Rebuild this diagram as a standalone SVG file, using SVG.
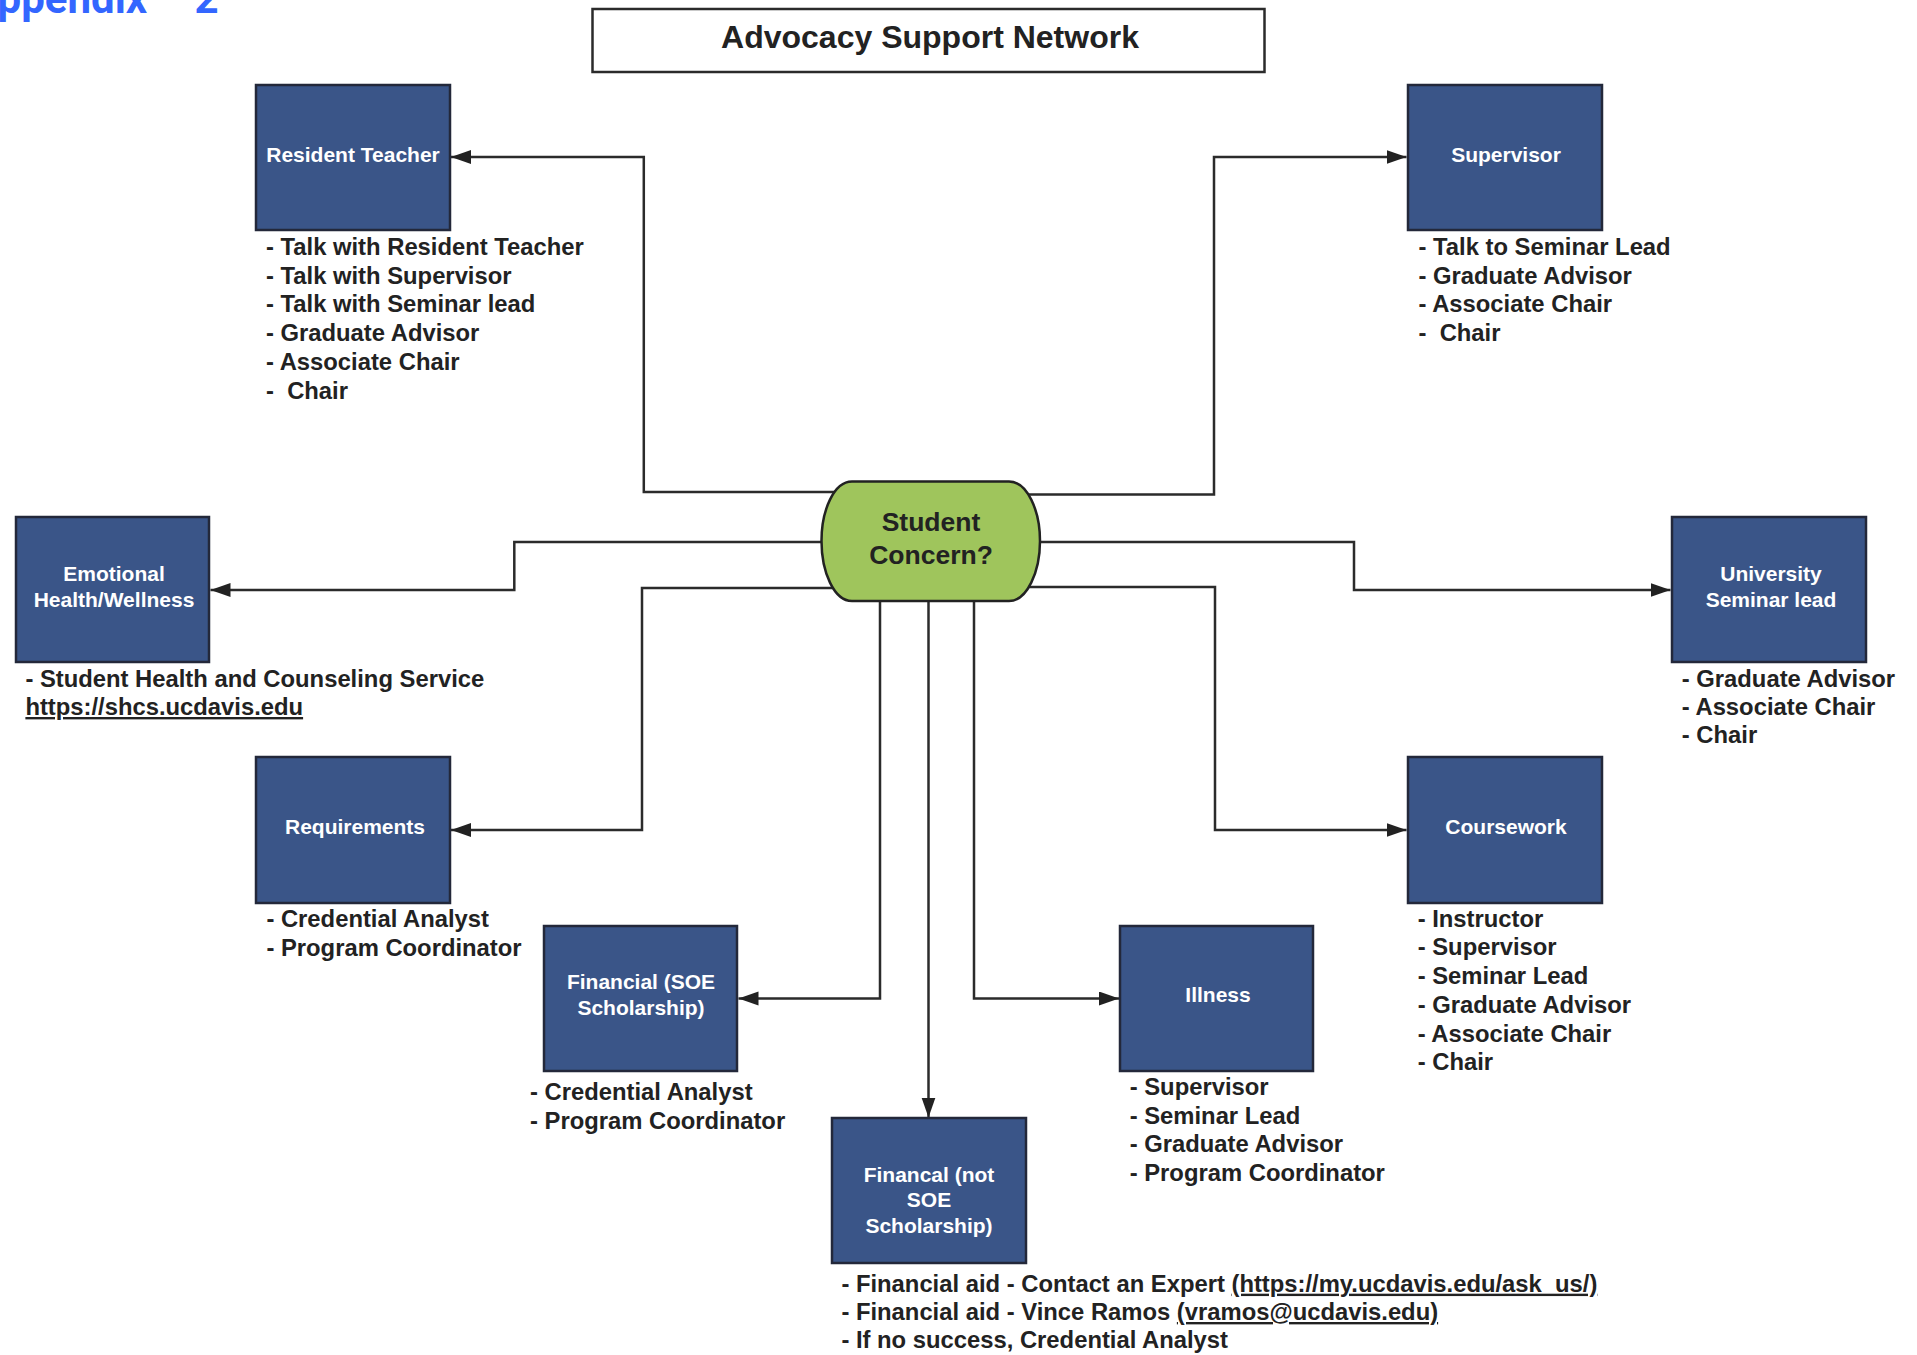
<svg xmlns="http://www.w3.org/2000/svg" width="1917" height="1355" viewBox="0 0 1917 1355">
<style>
  .box { fill: #3a5588; stroke: #23283a; stroke-width: 2.5; }
  .nl { fill: #ffffff; font-family: "Liberation Sans", Arial, sans-serif; font-weight: bold; font-size: 21px; text-anchor: middle; }
  .lst { fill: #222222; font-family: "Liberation Sans", Arial, sans-serif; font-weight: bold; font-size: 23.8px; }
  .conn { fill: none; stroke: #2b2b2b; stroke-width: 2.5; }
  .u { text-decoration: underline; }
</style>
<defs>
  <marker id="ah" markerUnits="userSpaceOnUse" markerWidth="21" markerHeight="15" refX="20" refY="7" orient="auto">
    <path d="M0,0 L20,7 L0,14 Z" fill="#222222"/>
  </marker>
</defs>
<rect width="1917" height="1355" fill="#ffffff"/>

<text x="-30" y="12.5" font-family="Roboto, 'Liberation Sans', sans-serif" font-weight="bold" font-size="42" fill="#3366ff">Appendix – 2</text>

<g id="title">
  <rect x="592.5" y="9" width="672" height="63" fill="#ffffff" stroke="#2b2b2b" stroke-width="2.5"/>
  <text x="930" y="47.5" font-family="Liberation Sans, Arial, sans-serif" font-weight="bold" font-size="32" fill="#222222" text-anchor="middle">Advocacy Support Network</text>
</g>

<g id="connectors">
  <path class="conn" d="M838,492 H643.8 V157 H451" marker-end="url(#ah)"/>
  <path class="conn" d="M1025,494.5 H1214 V157 H1406.5" marker-end="url(#ah)"/>
  <path class="conn" d="M830,542 H514.3 V590 H210.5" marker-end="url(#ah)"/>
  <path class="conn" d="M1030,542 H1354 V590 H1670.5" marker-end="url(#ah)"/>
  <path class="conn" d="M835,588 H642 V830 H451" marker-end="url(#ah)"/>
  <path class="conn" d="M1025,587 H1215 V830 H1406.5" marker-end="url(#ah)"/>
  <path class="conn" d="M880,595 V998.5 H738.5" marker-end="url(#ah)"/>
  <path class="conn" d="M928.5,595 V1117.5" marker-end="url(#ah)"/>
  <path class="conn" d="M974,595 V998.5 H1119" marker-end="url(#ah)"/>
</g>

<g id="student-concern">
  <path d="M852,481.5 H1009 C1027,481.5 1040,510 1040,541 C1040,572 1027,601 1009,601 H852 C834,601 821.5,572 821.5,541 C821.5,510 834,481.5 852,481.5 Z" fill="#9fc55c" stroke="#222222" stroke-width="2.5"/>
  <text x="931" y="530.5" font-family="Liberation Sans, Arial, sans-serif" font-weight="bold" font-size="26.5" fill="#222222" text-anchor="middle">Student</text>
  <text x="931" y="563.5" font-family="Liberation Sans, Arial, sans-serif" font-weight="bold" font-size="26.5" fill="#222222" text-anchor="middle">Concern?</text>
</g>

<g id="resident-teacher">
  <rect class="box" x="256" y="85" width="194" height="145"/>
  <text class="nl" x="353" y="162">Resident Teacher</text>
  <text class="lst" xml:space="preserve"><tspan x="266" y="255">- Talk with Resident Teacher</tspan><tspan x="266" y="283.7">- Talk with Supervisor</tspan><tspan x="266" y="312.4">- Talk with Seminar lead</tspan><tspan x="266" y="341.1">- Graduate Advisor</tspan><tspan x="266" y="369.8">- Associate Chair</tspan><tspan x="266" y="398.5">-  Chair</tspan></text>
</g>

<g id="supervisor">
  <rect class="box" x="1408" y="85" width="194" height="145"/>
  <text class="nl" x="1506" y="162">Supervisor</text>
  <text class="lst" xml:space="preserve"><tspan x="1418.5" y="255">- Talk to Seminar Lead</tspan><tspan x="1418.5" y="283.7">- Graduate Advisor</tspan><tspan x="1418.5" y="312.4">- Associate Chair</tspan><tspan x="1418.5" y="341.1">-  Chair</tspan></text>
</g>

<g id="emotional-health">
  <rect class="box" x="16" y="517" width="193" height="145"/>
  <text class="nl" x="114" y="580.7">Emotional</text>
  <text class="nl" x="114" y="606.7">Health/Wellness</text>
  <text class="lst"><tspan x="25.4" y="686.7">- Student Health and Counseling Service</tspan><tspan x="25.4" y="715" class="u">https://shcs.ucdavis.edu</tspan></text>
</g>

<g id="university-seminar-lead">
  <rect class="box" x="1672" y="517" width="194" height="145"/>
  <text class="nl" x="1771" y="580.7">University</text>
  <text class="nl" x="1771" y="606.7">Seminar lead</text>
  <text class="lst"><tspan x="1681.8" y="686.7">- Graduate Advisor</tspan><tspan x="1681.8" y="715">- Associate Chair</tspan><tspan x="1681.8" y="743.3">- Chair</tspan></text>
</g>

<g id="requirements">
  <rect class="box" x="256" y="757" width="194" height="146"/>
  <text class="nl" x="355" y="834">Requirements</text>
  <text class="lst"><tspan x="266.4" y="926.7">- Credential Analyst</tspan><tspan x="266.4" y="955.7">- Program Coordinator</tspan></text>
</g>

<g id="coursework">
  <rect class="box" x="1408" y="757" width="194" height="146"/>
  <text class="nl" x="1506" y="834">Coursework</text>
  <text class="lst"><tspan x="1417.7" y="926.7">- Instructor</tspan><tspan x="1417.7" y="955.4">- Supervisor</tspan><tspan x="1417.7" y="984.1">- Seminar Lead</tspan><tspan x="1417.7" y="1012.8">- Graduate Advisor</tspan><tspan x="1417.7" y="1041.5">- Associate Chair</tspan><tspan x="1417.7" y="1070.2">- Chair</tspan></text>
</g>

<g id="financial-soe">
  <rect class="box" x="544" y="926" width="193" height="145"/>
  <text class="nl" x="641" y="989">Financial (SOE</text>
  <text class="nl" x="641" y="1015">Scholarship)</text>
  <text class="lst"><tspan x="530" y="1100">- Credential Analyst</tspan><tspan x="530" y="1129">- Program Coordinator</tspan></text>
</g>

<g id="illness">
  <rect class="box" x="1120" y="926" width="193" height="145"/>
  <text class="nl" x="1218" y="1002">Illness</text>
  <text class="lst"><tspan x="1129.7" y="1095">- Supervisor</tspan><tspan x="1129.7" y="1123.6">- Seminar Lead</tspan><tspan x="1129.7" y="1152.2">- Graduate Advisor</tspan><tspan x="1129.7" y="1180.8">- Program Coordinator</tspan></text>
</g>

<g id="financial-not-soe">
  <rect class="box" x="832" y="1118" width="194" height="145"/>
  <text class="nl" x="929" y="1181.7">Financal (not</text>
  <text class="nl" x="929" y="1207.3">SOE</text>
  <text class="nl" x="929" y="1232.7">Scholarship)</text>
  <text class="lst"><tspan x="841.4" y="1291.7">- Financial aid - Contact an Expert <tspan class="u">(https://my.ucdavis.edu/ask_us/)</tspan></tspan><tspan x="841.4" y="1320">- Financial aid - Vince Ramos <tspan class="u">(vramos@ucdavis.edu)</tspan></tspan><tspan x="841.4" y="1348.3">- If no success, Credential Analyst</tspan></text>
</g>
</svg>
